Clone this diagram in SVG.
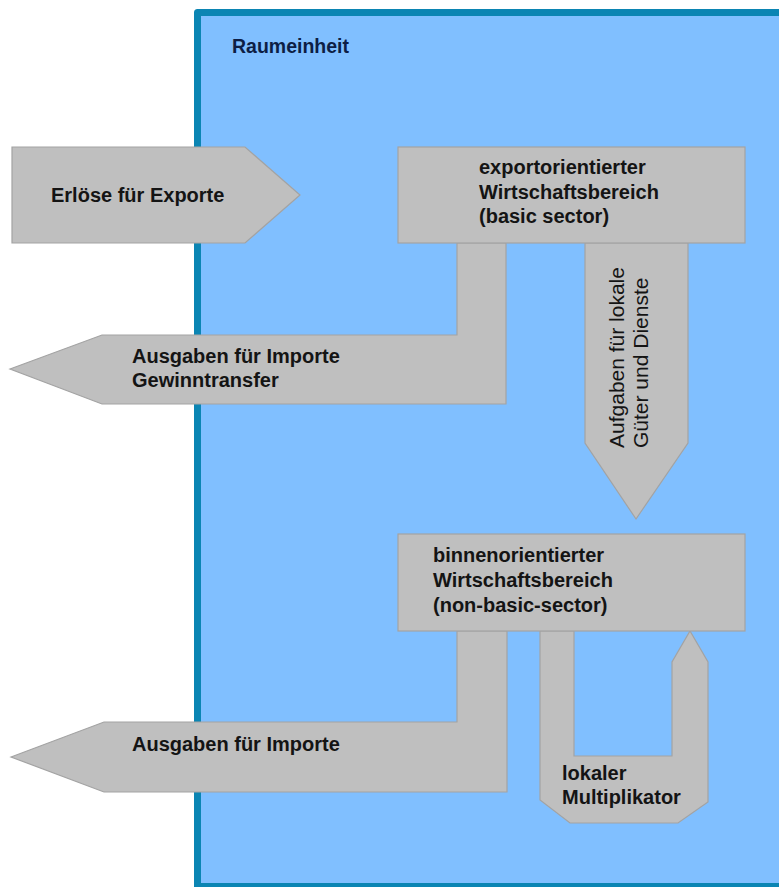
<svg xmlns="http://www.w3.org/2000/svg" width="779" height="887" viewBox="0 0 779 887">
<style>
.flow{fill:#BFBFBF;stroke:#A3A3A3;stroke-width:1.2;stroke-linejoin:miter}
.box{fill:#BFBFBF;stroke:#A3A3A3;stroke-width:1.2}
.lbl{font-family:"Liberation Sans",Arial,Helvetica,sans-serif;font-weight:bold;font-size:20px;fill:#141414}
.rot{font-family:"Liberation Sans",Arial,Helvetica,sans-serif;font-size:21px;fill:#141414}
</style>
<rect width="779" height="887" fill="#FFFFFF"/>
<g id="raumeinheit">
<rect x="197.5" y="12.5" width="640" height="874" fill="#80BFFF" stroke="#0B85B3" stroke-width="7" stroke-linejoin="round"/>
<text x="232" y="53" font-family="'Liberation Sans',Arial,sans-serif" font-weight="bold" font-size="19.5" fill="#0D1E45">Raumeinheit</text>
</g>
<g id="connectors">
<g id="erloese">
<polygon class="flow" points="12,147 245,147 300,195 245,243 12,243"/>
<text class="lbl" x="51" y="202">Erlöse für Exporte</text>
</g>
<g id="ausgaben1">
<polygon class="flow" points="10,369 102,335 457,335 457,243 506,243 506,404 102,404"/>
<text class="lbl" x="132" y="363">Ausgaben für Importe</text>
<text class="lbl" x="132" y="387">Gewinntransfer</text>
</g>
<g id="aufgaben">
<polygon class="flow" points="585,243 688,243 688,443 636,519 585,443"/>
<text class="rot" transform="translate(624,448) rotate(-90)">Aufgaben für lokale</text>
<text class="rot" transform="translate(648,448) rotate(-90)">Güter und Dienste</text>
</g>
<g id="ausgaben2">
<polygon class="flow" points="11,757 104,722 457,722 457,631 507,631 507,792 104,792"/>
<text class="lbl" x="132" y="751">Ausgaben für Importe</text>
</g>
<g id="multiplikator">
<polygon class="flow" points="540,631 574,631 574,756 672,756 672,662 690,631 708,662 708,802 678,823 570,823 540,800"/>
<text class="lbl" x="562" y="780">lokaler</text>
<text class="lbl" x="562" y="804">Multiplikator</text>
</g>
</g>
<g id="basic">
<rect class="box" x="398" y="147" width="347" height="96"/>
<text class="lbl" x="479" y="174">exportorientierter</text>
<text class="lbl" x="479" y="198.5">Wirtschaftsbereich</text>
<text class="lbl" x="479" y="223">(basic sector)</text>
</g>
<g id="nonbasic">
<rect class="box" x="398" y="534" width="347" height="97"/>
<text class="lbl" x="433" y="562">binnenorientierter</text>
<text class="lbl" x="433" y="587">Wirtschaftsbereich</text>
<text class="lbl" x="433" y="612">(non-basic-sector)</text>
</g>
</svg>
